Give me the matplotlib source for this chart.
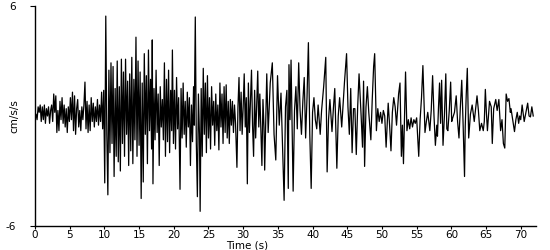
import numpy as np
import matplotlib
matplotlib.use('Agg')
import matplotlib.pyplot as plt

# ------- trace vertices (time [s], accel [cm/s/s])
t_early = [0.0, 0.15, 0.3, 0.45, 0.6, 0.75, 0.9, 1.05, 1.2, 1.35, 1.5, 1.65, 1.8, 1.95,
           2.1, 2.25, 2.4, 2.55, 2.7, 2.85, 3.0, 3.15, 3.3, 3.45, 3.6, 3.75, 3.9, 4.05,
           4.2, 4.35, 4.5, 4.65, 4.8, 4.95, 5.1, 5.25, 5.4, 5.55, 5.7, 5.85, 6.0, 6.15,
           6.3, 6.45, 6.6, 6.75, 6.9, 7.05, 7.2, 7.35, 7.5, 7.65, 7.8, 7.95, 8.1, 8.25,
           8.4, 8.55, 8.7, 8.85, 9.0, 9.15, 9.3, 9.45, 9.6, 9.75, 9.9]
a_early = [0.0, 0.1, -0.2, 0.5, 0.2, 0.6, -0.3, 0.5, -0.2, 0.6, -0.4, 0.4, 0.0, 0.5,
           -0.4, 0.3, 0.6, -0.3, 1.2, 0.2, 1.1, -0.9, 0.3, -0.8, 0.8, -0.2, 1.0, -0.4,
           0.6, -0.6, 0.4, -0.9, 0.5, -0.3, 1.0, -0.2, 1.3, -0.8, 1.1, -1.0, 0.4, 0.9,
           -0.6, 0.3, -0.8, 0.5, -0.2, 0.6, 1.85, -0.7, 0.8, -0.9, 0.6, -0.8, 1.0, -0.3,
           0.7, -0.6, 0.5, -0.3, 0.9, -0.5, 0.6, -0.3, 1.3, -0.7, 1.4]

t_strong = [10.05, 10.2, 10.35, 10.5, 10.65, 10.8, 10.95, 11.1, 11.25, 11.4, 11.55, 11.7,
            11.85, 12.0, 12.15, 12.3, 12.45, 12.6, 12.75, 12.9, 13.05, 13.2, 13.35, 13.5,
            13.65, 13.8, 13.95, 14.1, 14.25, 14.4, 14.55, 14.7, 14.85, 15.0, 15.15, 15.3,
            15.45, 15.6, 15.75, 15.9, 16.05, 16.2, 16.35, 16.5, 16.65, 16.8, 16.9, 17.0,
            17.15, 17.3, 17.45, 17.6, 17.75, 17.9, 18.05, 18.2, 18.35, 18.5, 18.65, 18.8,
            18.95, 19.1, 19.25, 19.4, 19.55, 19.7, 19.8, 19.95, 20.1, 20.25, 20.4, 20.55,
            20.7, 20.9, 21.05, 21.2, 21.35, 21.5, 21.65, 21.8, 21.95, 22.1, 22.25, 22.4,
            22.55, 22.7, 22.85, 22.95, 23.1, 23.25, 23.4, 23.55, 23.7, 23.8, 23.95, 24.1,
            24.25, 24.4, 24.55, 24.7, 24.85, 25.0, 25.15, 25.3, 25.45, 25.6, 25.75, 25.9,
            26.05, 26.2, 26.35, 26.5, 26.65, 26.8, 26.95, 27.1, 27.25, 27.4, 27.55, 27.7,
            27.85, 28.0, 28.15, 28.3, 28.45, 28.6, 28.75, 28.9, 29.1, 29.25, 29.4, 29.55,
            29.7, 29.85, 30.0, 30.15, 30.3, 30.45, 30.6, 30.75, 30.9, 31.05, 31.2, 31.35,
            31.5, 31.65, 31.8, 31.95, 32.1, 32.25, 32.4, 32.55, 32.7, 32.85, 33.0]
a_strong = [-3.65, 5.45, -1.0, -4.3, 2.5, -2.0, 2.9, -1.5, 2.7, -3.3, 1.5, -2.2,
            3.0, -2.5, 1.6, -3.0, 3.1, -1.5, 2.4, -2.2, 3.1, -1.0, 1.9, -2.7,
            2.3, -1.9, 3.2, -2.6, 2.0, -1.3, 4.3, -2.2, 3.0, -1.6, 2.4, -4.5,
            1.8, -3.6, 3.4, -1.0, 2.2, -2.6, 3.6, -0.8, 2.0, -1.8, 4.15, -3.7,
            1.5, -1.3, 2.5, -0.9, 1.2, -2.7, 1.6, -0.6, 0.9, -1.3, 2.9, -2.2,
            2.0, -1.4, 2.5, -2.0, 1.4, -0.8, 3.6, -1.5, 1.4, -1.8, 2.1, -0.7,
            1.0, -4.0, 1.5, -1.2, 1.8, -1.0, 0.8, -1.7, 1.3, -0.6, 1.0, -2.7,
            0.6, -1.4, 1.6, -0.5, 5.4, -1.5, -4.4, 1.2, -1.0, -5.2, 1.5, -2.2,
            2.6, -1.0, 1.8, -2.0, 2.2, -1.2, 1.0, -1.8, 1.6, -0.5, 0.8, -1.6,
            1.2, -0.8, 0.6, -1.85, 1.8, -0.6, 1.2, -1.5, 1.6, -0.9, 1.7, -1.2,
            0.8, -1.5, 0.9, -0.5, 0.8, -0.9, 0.6, -0.4, -2.8, 0.5, 2.1, -0.8,
            1.3, -1.0, 0.5, 2.3, -0.6, 1.0, -3.7, 1.8, -0.9, 0.8, 2.5, -0.5,
            -2.2, 1.4, -1.2, 0.6, 2.45, -0.6, 1.2, -0.8, -2.7, 0.9, -0.6]

t_late = [33.1, 33.4, 33.6, 33.9, 34.2, 34.45, 34.7, 34.95, 35.2, 35.45, 35.9, 36.1,
          36.3, 36.5, 36.6, 36.75, 36.9, 37.2, 37.4, 37.6, 37.8, 38.0, 38.2, 38.4,
          38.6, 38.8, 39.0, 39.2, 39.4, 39.6, 39.8, 40.0, 40.2, 40.4, 40.6, 40.8,
          41.1, 41.3, 41.6, 41.9, 42.1, 42.3, 42.5, 42.8, 43.0, 43.2, 43.5, 43.7,
          43.9, 44.2, 44.4, 44.6, 44.9, 45.1, 45.3, 45.5, 45.7, 45.9, 46.1, 46.3,
          46.5, 46.7, 47.0, 47.2, 47.35, 47.5, 47.7, 47.9, 48.1, 48.4, 48.6, 48.8,
          48.95, 49.2, 49.4, 49.6, 49.8, 50.0, 50.2, 50.4, 50.6, 50.9, 51.1, 51.3,
          51.5, 51.7, 51.9, 52.1, 52.4, 52.6, 52.8, 52.95, 53.1, 53.4, 53.6, 53.8,
          54.0, 54.2, 54.4, 54.6, 54.8, 55.0, 55.3, 55.5, 55.7, 55.9, 56.2, 56.4,
          56.6, 56.9, 57.1, 57.3, 57.5, 57.7, 57.9, 58.0, 58.15, 58.3, 58.45, 58.6,
          58.8, 59.0, 59.2, 59.35, 59.5, 59.7, 59.9, 60.05, 60.2, 60.45, 60.7, 60.9,
          61.1, 61.3, 61.5, 61.7, 61.9, 62.0, 62.15, 62.3, 62.5, 62.75, 63.0, 63.3,
          63.5, 63.7, 63.9, 64.1, 64.35, 64.6, 64.75, 64.9, 65.05, 65.2, 65.5, 65.75,
          65.9, 66.1, 66.4, 66.6, 66.85, 67.1, 67.3, 67.5, 67.7, 67.9, 68.1, 68.3,
          68.5, 68.6, 68.8, 69.1, 69.3, 69.5, 69.7, 69.85, 70.0, 70.2, 70.5, 70.8,
          71.0, 71.2, 71.4, 71.6, 71.8]
a_late = [-2.95, 2.3, -0.9, 1.8, 2.9, -1.0, -2.4, 2.2, -0.5, 1.25, -4.6, 0.5,
          1.4, -3.95, 2.8, -0.2, 3.05, -4.1, 0.3, 1.6, -0.7, 2.9, 0.3, -1.0,
          0.8, 2.1, -1.2, 1.0, 4.0, -1.0, -3.95, 0.2, 1.0, -0.2, -0.7, 0.6,
          -1.0, 0.3, 1.6, 3.2, -3.05, -0.2, 0.9, -0.85, 0.4, 1.5, -2.85, 0.0,
          1.0, -0.6, 0.6, 1.85, 3.4, 0.5, -1.0, 1.5, -2.0, 0.4, 0.4, -2.1,
          0.5, 2.3, 0.0, -1.7, 1.9, -2.75, 0.5, 1.6, 0.2, -1.3, 0.9, 2.7,
          3.4, -0.8, 0.4, -0.3, 0.2, -0.4, 0.3, 0.0, -1.7, 0.7, -0.5, -1.9,
          0.2, 1.0, 0.5, -0.5, 1.2, 1.8, -2.2, -0.5, -2.6, 2.4, -0.8, -0.2,
          -0.7, -0.1, -0.6, -0.2, -0.4, -0.1, -2.2, -0.2, 1.0, 2.75, -0.9, -0.3,
          0.2, -0.8, 0.3, 2.2, 0.0, -1.6, -0.5, -1.1, 0.5, 1.8, -0.4, 1.95,
          -1.6, 0.0, 2.3, -0.7, -0.8, 0.3, 1.85, -0.3, -0.1, 0.2, 1.1, -0.3,
          -1.2, 0.5, 1.95, -0.5, -3.3, -0.6, 1.2, 2.6, -1.2, 0.1, 0.6, -0.3,
          0.4, 1.1, 0.3, -0.8, -0.4, -0.8, -0.3, 1.45, 0.2, -0.8, 0.8, 0.5,
          -1.5, 0.4, 0.9, 0.3, 0.9, -0.8, -0.2, -1.5, -1.75, 1.2, 0.8, 0.95,
          0.2, 0.4, -0.1, -0.85, -0.2, 0.2, -0.4, 0.0, -0.2, 0.6, -0.3, 0.3,
          0.7, 0.0, -0.05, 0.5, 0.0]

x_ticks = [0, 5, 10, 15, 20, 25, 30, 35, 40, 45, 50, 55, 60, 65, 70]
y_ticks = [-6, 6]

time = np.array(t_early + t_strong + t_late)
acc = np.array(a_early + a_strong + a_late)

# ------- plot appearance
params = {'font.family': 'DejaVu Sans',
          'font.size': 7.5,
          'xtick.labelsize': 7.5,
          'ytick.labelsize': 7.5,
          'axes.unicode_minus': False}
plt.rcParams.update(params)

fig = plt.figure(figsize=(5.5, 2.5), dpi=100)
ax = fig.add_axes([35/550, 1 - 226/250, 501/550, 220/250])
ax.plot(time, acc, color='black', linewidth=0.9)

ax.set_xlim(0, 72.2)
ax.set_ylim(-6, 6)
ax.set_xticks(x_ticks)
ax.set_yticks(y_ticks)
ax.tick_params(axis='x', direction='out', length=2.2, width=0.8, pad=1)
ax.tick_params(axis='y', direction='out', length=3.6, width=0.8, pad=10)
ax.spines['top'].set_visible(False)
ax.spines['right'].set_visible(False)
for s in ('left', 'bottom'):
    ax.spines[s].set_linewidth(1.0)

fig.text(14/550, 1 - 116/250, 'cm/s/s', rotation=90, ha='center', va='center', fontsize=7.5)
fig.text(247/550, 1 - 245/250, 'Time (s)', ha='center', va='center', fontsize=7.5)

fig.savefig('out.png', dpi=100)
